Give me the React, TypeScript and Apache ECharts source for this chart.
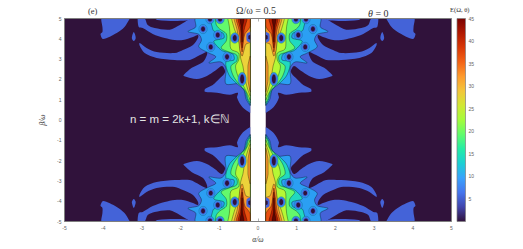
import React, { useEffect, useRef } from "react";
import * as echarts from "echarts";

const xTicks = [-5, 5];
const yTicks = [-5, 5];
const colorbarRange = [0, 45];
const colorbarStops = ["#30123b","#4145ab","#4675ed","#39a2fc","#1bcfd4","#24eca6","#61fc6c","#a4fc3b","#d1e834","#f3c63a","#fe9b2d","#f36315","#d93806","#b11901","#7a0402"];
const levelColors = ["#30123b","#4463d8","#2b9ff3","#20d8c0","#63f96c","#b5f835","#ecd23a","#fa9a2d","#e8500f","#b81e02","#5f0803"];

// Contours of E in the quadrant alpha>0, beta>0: [ |alpha|/omega, |beta|/omega ]
const level0 = [[0.2,0],[5,0],[5,5],[0.2,5]];
const level1Main = [[0.2,5],[1.68,5],[1.76,4.97],[2.02,4.68],[2.28,4.45],[2.67,4.53],[2.85,4.68],[2.93,5],[3.11,5],[3.08,4.58],[2.98,4.53],[2.72,4.24],[2.41,4.04],[2.15,3.94],[1.94,3.94],[1.68,4.09],[1.55,4.19],[1.55,4.04],[1.68,3.7],[1.94,3.45],[2.15,3.3],[2.62,3.35],[2.88,3.55],[3.06,3.79],[3.06,3.67],[2.93,3.3],[2.62,3.06],[2.15,2.96],[1.76,2.96],[1.5,3.2],[1.32,3.35],[1.32,3.2],[1.42,2.86],[1.71,2.57],[1.92,2.22],[1.92,2.17],[1.58,2.02],[1.32,2.17],[1.11,2.42],[0.93,2.66],[0.85,2.37],[0.98,2.07],[1.17,1.73],[1.37,1.53],[1.37,1.39],[1.06,1.34],[0.73,1.24],[0.52,1.34],[0.54,1.09],[0.41,0.65],[0.2,0.35]];
const level1Arc = [[1.68,5],[2.0,5],[2.66,5],[2.6,4.93],[2.15,4.88],[1.85,4.9]];
const level1Far = [[4.04,5],[4.02,4.58],[4.02,4.33],[4.07,4.23],[4.0,3.99],[3.65,4.28],[3.45,4.58],[3.32,4.97],[3.32,5]];
const level1Drop = [[3.21,4.33],[3.26,4.04],[3.21,3.89],[3.16,4.04]];
const level2 = [[0.2,0.7],[0.31,1.04],[0.36,1.48],[0.49,1.78],[0.83,1.78],[0.83,2.57],[0.96,2.86],[1.27,2.81],[1.09,3.11],[1.27,3.3],[1.53,3.6],[1.46,3.94],[1.53,4.22],[1.81,4.36],[1.61,4.58],[1.61,5],[0.2,5]];
const level3 = [[0.2,0.75],[0.28,1.04],[0.36,1.48],[0.57,1.83],[0.75,2.22],[0.83,2.86],[0.62,2.96],[0.65,3.25],[0.91,3.4],[1.04,3.6],[1.14,3.89],[0.88,4.04],[0.91,4.29],[1.14,4.38],[1.19,4.63],[1.24,5],[0.2,5]];
const level4 = [[0.2,0.85],[0.26,1.04],[0.31,1.39],[0.52,1.83],[0.65,2.22],[0.7,2.66],[0.55,2.9],[0.55,3.2],[0.75,3.35],[0.95,3.55],[0.82,3.9],[0.82,4.25],[1.0,4.5],[1.08,4.7],[1.1,5],[0.2,5]];
const level5 = [[0.2,0.99],[0.26,1.24],[0.39,1.73],[0.52,2.17],[0.58,2.66],[0.5,2.96],[0.5,3.3],[0.7,3.5],[0.72,4.1],[0.74,4.6],[0.78,5],[0.2,5]];
const level6 = [[0.2,1.19],[0.26,1.48],[0.34,2.07],[0.39,2.66],[0.45,3.06],[0.46,3.5],[0.5,3.94],[0.6,4.43],[0.68,5],[0.2,5]];
const level7 = [[0.62,5],[0.54,4.43],[0.49,3.84],[0.47,3.45],[0.41,3.15],[0.36,3.45],[0.31,3.74],[0.2,3.84],[0.2,5]];
const level7Strip = [[0.2,3.15],[0.26,2.66],[0.26,1.98],[0.2,1.39]];
const level8 = [[0.57,5],[0.49,4.43],[0.45,3.84],[0.41,3.35],[0.38,3.84],[0.34,4.24],[0.26,4.43],[0.2,4.63],[0.2,5]];
const level9 = [[0.52,5],[0.45,4.43],[0.43,3.84],[0.41,3.55],[0.39,3.84],[0.36,4.43],[0.28,5]];
const level10 = [[0.47,5],[0.43,4.53],[0.41,3.84],[0.4,4.53],[0.36,5]];
const stripHoleRing = [[0.2,3.8],[0.29,3.9],[0.3,4.1],[0.29,4.25],[0.2,4.35]];
const stripHoleCore = [[0.2,3.95],[0.25,4.0],[0.25,4.15],[0.2,4.2]];

const polygons: [number, number[][]][] = [
  [0, level0],[1, level1Main],[1, level1Arc],[1, level1Far],[1, level1Drop],
  [2, level2],[3, level3],[4, level4],[5, level5],[6, level6],[7, level7],[7, level7Strip],[8, level8],[9, level9],[10, level10],
  [1, stripHoleRing],[0, stripHoleCore],
];
// Local minima: [a, b, radius a, radius b]
const minima = [
  [1.42,4.48,0.05,0.12],[1.22,3.6,0.05,0.12],[0.8,3.11,0.05,0.13],[1.04,4.19,0.05,0.12],
  [0.6,4.04,0.05,0.15],[0.41,2.02,0.05,0.22],[1.24,4.95,0.05,0.1],[0.98,4.95,0.05,0.1],
];

export default function App() {
  const ref = useRef<HTMLDivElement>(null);
  useEffect(() => {
    const chart = echarts.init(ref.current!, undefined, { renderer: "svg", width: 523, height: 249 });
    const signs = [[1,1],[-1,1],[1,-1],[-1,-1]];
    const serif = "Liberation Serif";
    const ink = "#333";
    const mark = (text: string, left: number, top: number, fontSize: number) => ({
      text, left, top, padding: 0, textStyle: { fontSize, fontFamily: serif, color: ink, fontWeight: "normal" as const },
    });
    const grey = "#7f7f7f";
    const tickLabel = { fontSize: 5, color: "#666", fontFamily: "Liberation Sans" };
    chart.setOption({
      animation: false,
      title: [
        mark("Ω/ω = 0.5", 236, 5, 10),
        mark("(e)", 88, 6, 8.5),
        mark("E(Ω, θ)", 450, 6, 6.5),
        { text: "{i|θ} = 0", left: 368, top: 8, padding: 0, textStyle: { fontSize: 10, fontFamily: serif, color: ink, fontWeight: "normal", rich: { i: { fontStyle: "italic", fontSize: 10, fontFamily: serif, color: ink } } } },
      ],
      grid: [
        { left: 64.5, top: 18.5, width: 387, height: 203 },
        { left: 457, top: 18.5, width: 8.5, height: 203 },
      ],
      xAxis: [
        { type: "value", gridIndex: 0, min: xTicks[0], max: xTicks[1], interval: 1, position: "bottom",
          name: "α/ω", nameLocation: "middle", nameGap: 10, nameTextStyle: { fontFamily: serif, fontStyle: "italic", fontSize: 7.5, color: "#333" },
          axisLine: { show: false, onZero: false }, axisTick: { inside: true, length: 3, lineStyle: { color: grey, width: 0.6 } }, axisLabel: { ...tickLabel, margin: 4 }, splitLine: { show: false } },
        { type: "value", gridIndex: 0, min: xTicks[0], max: xTicks[1], interval: 1, position: "top",
          axisLine: { show: false, onZero: false }, axisTick: { inside: true, length: 3, lineStyle: { color: grey, width: 0.6 } }, axisLabel: { show: false }, splitLine: { show: false } },
        { type: "value", gridIndex: 1, min: 0, max: 1, axisLine: { show: false, onZero: false }, axisTick: { show: false }, axisLabel: { show: false }, splitLine: { show: false } },
      ],
      yAxis: [
        { type: "value", gridIndex: 0, min: yTicks[0], max: yTicks[1], interval: 1, position: "left",
          name: "β/ω", nameLocation: "middle", nameGap: 12, nameTextStyle: { fontFamily: serif, fontStyle: "italic", fontSize: 7.5, color: "#333" },
          axisLine: { show: false, onZero: false }, axisTick: { inside: true, length: 3, lineStyle: { color: grey, width: 0.6 } }, axisLabel: { ...tickLabel, margin: 3 }, splitLine: { show: false } },
        { type: "value", gridIndex: 1, position: "right", min: colorbarRange[0], max: colorbarRange[1], interval: 5,
          axisLine: { show: false, onZero: false }, axisTick: { show: false }, axisLabel: { ...tickLabel, margin: 3, formatter: (v: number) => (v === 0 ? "" : String(v)) }, splitLine: { show: false } },
      ],
      graphic: [{ type: "text", x: 130, y: 113, style: { text: "n = m = 2k+1, k∈ℕ", fontSize: 11.5, fontFamily: "Liberation Sans", fill: "#e4e4e4" }, z: 100 }],
      series: [
        { type: "custom", coordinateSystem: "cartesian2d", xAxisIndex: 0, yAxisIndex: 0, clip: true, silent: true, z: 2,
          data: polygons.map((_, i) => [0, 0, i]),
          renderItem: (params: any, api: any) => {
            const [level, pts] = polygons[params.dataIndex];
            return { type: "group", children: signs.map(([sx, sy]) => {
              const points = pts.map(([a, b]) => api.coord([sx * a, sy * b]));
              const xs = points.map((p: number[]) => p[0]), ys = points.map((p: number[]) => p[1]);
              return {
                type: "polygon",
                shape: {
                  points,
                  smooth: level === 0 ? 0 : 0.3,
                  smoothConstraint: [[Math.min(...xs), Math.min(...ys)], [Math.max(...xs), Math.max(...ys)]],
                },
                style: { fill: levelColors[level], stroke: level > 1 ? "rgba(0,0,0,0.75)" : "none", lineWidth: 0.45 },
              };
            }) };
          } },
        { type: "custom", coordinateSystem: "cartesian2d", xAxisIndex: 0, yAxisIndex: 0, clip: true, silent: true, z: 3,
          data: minima.map((m) => m),
          renderItem: (_p: any, api: any) => {
            const ra = api.value(2), rb = api.value(3);
            const sz = api.size([ra, rb]);
            const kids: any[] = [];
            signs.forEach(([sx, sy]) => {
              const [cx, cy] = api.coord([sx * api.value(0), sy * api.value(1)]);
              kids.push({ type: "ellipse", shape: { cx, cy, rx: sz[0] + 2.2, ry: sz[1] + 2.2 }, style: { fill: levelColors[2], stroke: "rgba(0,0,0,0.5)", lineWidth: 0.35 } });
              kids.push({ type: "ellipse", shape: { cx, cy, rx: sz[0] + 1.1, ry: sz[1] + 1.1 }, style: { fill: levelColors[1] } });
              kids.push({ type: "ellipse", shape: { cx, cy, rx: sz[0], ry: sz[1] }, style: { fill: levelColors[0] } });
            });
            return { type: "group", children: kids };
          } },
        { type: "custom", coordinateSystem: "cartesian2d", xAxisIndex: 0, yAxisIndex: 0, clip: false, silent: true, z: 5,
          data: [[0, 0]],
          renderItem: (_p: any, api: any) => {
            const tl = api.coord([xTicks[0], yTicks[1]]), br = api.coord([xTicks[1], yTicks[0]]);
            return { type: "rect", shape: { x: tl[0], y: tl[1], width: br[0] - tl[0], height: br[1] - tl[1] }, style: { fill: "none", stroke: grey, lineWidth: 1 } };
          } },
        { type: "custom", coordinateSystem: "cartesian2d", xAxisIndex: 2, yAxisIndex: 1, clip: false, silent: true, z: 2,
          data: [[0, 0]],
          renderItem: (_p: any, api: any) => {
            const tl = api.coord([0, colorbarRange[1]]), br = api.coord([1, colorbarRange[0]]);
            return { type: "rect", shape: { x: tl[0], y: tl[1], width: br[0] - tl[0], height: br[1] - tl[1] },
              style: { stroke: grey, lineWidth: 0.7, fill: new echarts.graphic.LinearGradient(0, 1, 0, 0, colorbarStops.map((color, i) => ({ offset: i / (colorbarStops.length - 1), color }))) } };
          } },
      ],
    });
    return () => chart.dispose();
  }, []);
  return <div ref={ref} style={{ width: 523, height: 249, position: "absolute", left: 0, top: 0 }} />;
}
